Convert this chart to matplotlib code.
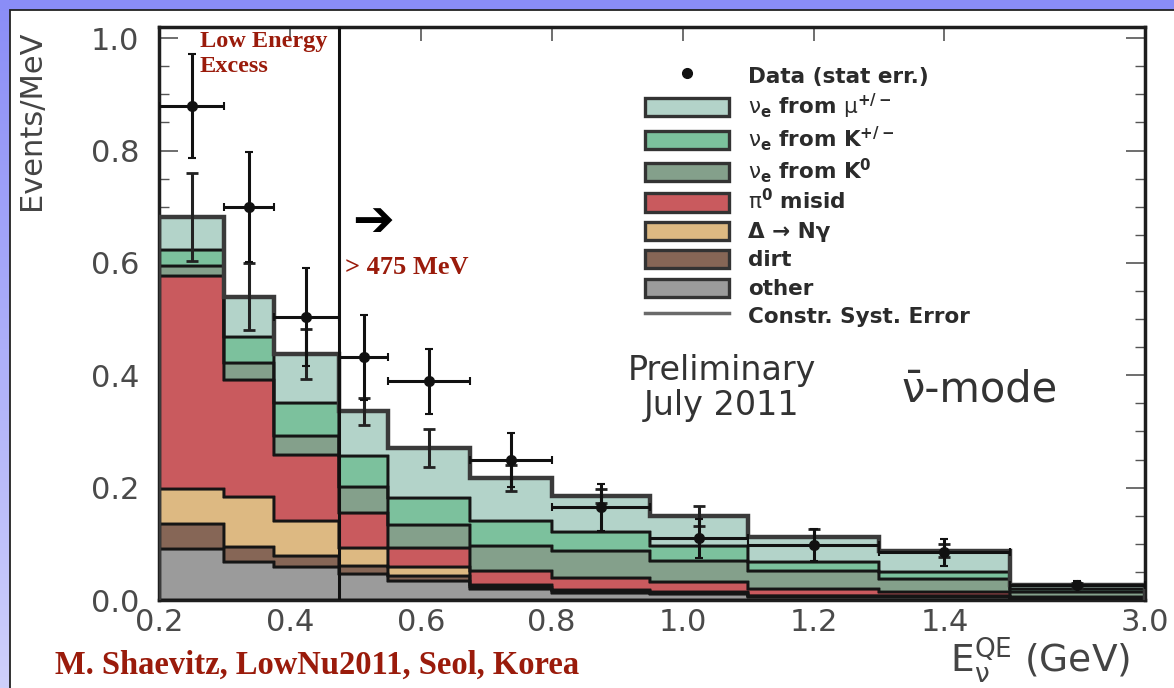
import numpy as np
import matplotlib
matplotlib.use("Agg")
import matplotlib.pyplot as plt
from matplotlib.patches import Patch, Rectangle
from matplotlib.lines import Line2D
from matplotlib.legend_handler import HandlerPatch
from matplotlib.colors import LinearSegmentedColormap

# ---------------- data ----------------
edges = [0.2, 0.3, 0.375, 0.475, 0.55, 0.675, 0.8, 0.95, 1.1, 1.3, 1.5, 3.0]
other = [0.091, 0.067, 0.058, 0.046, 0.034, 0.020, 0.013, 0.010, 0.005, 0.005, 0.002]
dirt = [0.044, 0.027, 0.020, 0.015, 0.009, 0.004, 0.003, 0.002, 0.002, 0.002, 0.001]
delta_ng = [0.062, 0.089, 0.062, 0.031, 0.016, 0.003, 0.002, 0.002, 0.001, 0.001, 0.000]
pi0_misid = [0.379, 0.209, 0.119, 0.063, 0.033, 0.025, 0.021, 0.018, 0.012, 0.006, 0.002]
nue_k0 = [0.018, 0.030, 0.033, 0.047, 0.041, 0.044, 0.048, 0.038, 0.032, 0.023, 0.010]
nue_kpm = [0.029, 0.047, 0.059, 0.054, 0.048, 0.045, 0.034, 0.027, 0.016, 0.013, 0.004]
nue_mu = [0.059, 0.071, 0.087, 0.080, 0.090, 0.076, 0.064, 0.053, 0.044, 0.038, 0.007]
syst_err = [0.078, 0.060, 0.045, 0.024, 0.034, 0.023, 0.012, 0.018, 0.014, 0.012, 0.004]
data_vals = [0.879, 0.700, 0.504, 0.432, 0.389, 0.250, 0.165, 0.110, 0.098, 0.085, 0.027]
data_err = [0.093, 0.098, 0.087, 0.076, 0.058, 0.048, 0.042, 0.035, 0.028, 0.024, 0.006]

components = [
    ("other", other, "#9b9b9b"),
    ("dirt", dirt, "#866656"),
    ("\u0394 \u2192 N\u03b3", delta_ng, "#ddb982"),
    (r"$\mathrm{\pi}^0$ misid", pi0_misid, "#c95a5e"),
    (r"$\mathrm{\nu}_e$ from K$^0$", nue_k0, "#84a08b"),
    (r"$\mathrm{\nu}_e$ from K$^{+/-}$", nue_kpm, "#7cc19d"),
    (r"$\mathrm{\nu}_e$ from $\mathrm{\mu}^{+/-}$", nue_mu, "#b3d3c9"),
]

xticks = [0.2, 0.4, 0.6, 0.8, 1.0, 1.2, 1.4, 3.0]
xticklabels = ["0.2", "0.4", "0.6", "0.8", "1.0", "1.2", "1.4", "3.0"]
yticks = [0.0, 0.2, 0.4, 0.6, 0.8, 1.0]
yticklabels = ["0.0", "0.2", "0.4", "0.6", "0.8", "1.0"]

# ---------------- figure ----------------
plt.rcParams["mathtext.default"] = "regular"
W, H = 1174, 688
fig = plt.figure(figsize=(W / 100, H / 100), dpi=100)

# slide background gradient
bg = fig.add_axes([0, 0, 1, 1], zorder=-10)
bg.set_axis_off()
cmap_bg = LinearSegmentedColormap.from_list("bg", ["#8a8df7", "#cfd0fb"])
bg.imshow(np.linspace(0, 1, 256).reshape(-1, 1), aspect="auto", cmap=cmap_bg,
          extent=(0, 1, 0, 1), origin="upper")
bg.set_xlim(0, 1)
bg.set_ylim(0, 1)
bg.add_patch(Rectangle((10 / W, -0.01), 1.0, 1 - 10 / H + 0.01, facecolor="white",
                       edgecolor="#222222", lw=1.3))

ax = fig.add_axes([159 / W, 1 - 600 / H, (1145 - 159) / W, (600 - 27) / H], zorder=2)
ax.set_facecolor("none")

K = 0.1376


def fwd(x):
    x = np.asarray(x, dtype=float)
    return np.where(x <= 1.5, x, 1.5 + (x - 1.5) * K)


def inv(u):
    u = np.asarray(u, dtype=float)
    return np.where(u <= 1.5, u, 1.5 + (u - 1.5) / K)


ax.set_xscale("function", functions=(fwd, inv))
ax.set_xlim(0.2, 3.0)
ax.set_ylim(0, 1.02)

edges_a = np.array(edges)
base = np.zeros(len(edges) - 1)
for name, vals, col in components:
    v = np.array(vals)
    ax.stairs(base + v, edges_a, baseline=base.copy(), fill=True,
              facecolor=col, edgecolor="#151515", lw=1.7, zorder=2)
    ax.stairs(base + v, edges_a, baseline=base.copy(), fill=False,
              color="#151515", lw=1.7, zorder=3)
    base = base + v
total = base

# total line (syst)
ax.stairs(total, edges_a, color="#3a3a3a", lw=3.2, zorder=4)

centers = 0.5 * (edges_a[:-1] + edges_a[1:])
halfw = 0.5 * (edges_a[1:] - edges_a[:-1])

ax.errorbar(centers, total, yerr=syst_err, fmt="none", ecolor="#222222",
            elinewidth=2.2, capsize=4, capthick=2, zorder=5)
ax.errorbar(centers, data_vals, yerr=data_err, xerr=halfw, fmt="o", color="#111111",
            ms=7, elinewidth=2.2, capsize=3, capthick=1.5, zorder=6)

ax.axvline(0.475, color="#111111", lw=2.2, zorder=7)

# ticks
ax.set_xticks(xticks)
ax.set_xticklabels(xticklabels)
ax.set_yticks(yticks)
ax.set_yticklabels(yticklabels)
ax.set_yticks(np.arange(0, 1.01, 0.05), minor=True)
ax.set_xticks([], minor=True)
ax.tick_params(axis="both", which="both", direction="in", top=True, right=True,
               colors="#555555", labelcolor="#4a4a4a", labelsize=22)
ax.tick_params(axis="y", which="major", length=14, width=1.2, pad=14)
ax.tick_params(axis="y", which="minor", length=7, width=1.0)
ax.tick_params(axis="x", which="major", length=10, width=1.2, pad=6)
for lab in ax.get_xticklabels() + ax.get_yticklabels():
    lab.set_family("DejaVu Sans")
for sp in ax.spines.values():
    sp.set_linewidth(2.5)
    sp.set_color("#1e1e1e")


# legend
def small_rect(legend, orig_handle, xdescent, ydescent, width, height, fontsize):
    h = height * 0.72
    return Rectangle((-xdescent, -ydescent + (height - h) / 2), width, h)


handles = [Line2D([], [], marker="o", color="#111111", ls="none", ms=7)]
labels = ["Data (stat err.)"]
for name, vals, col in components[::-1]:
    handles.append(Patch(facecolor=col, edgecolor="#333333", lw=2.4))
    labels.append(name)
handles.append(Line2D([], [], color="#6a6a6a", lw=2.5))
labels.append("Constr. Syst. Error")
leg = ax.legend(handles, labels, loc="upper left",
                bbox_to_anchor=((636 - 159) / (1145 - 159), (600 - 55) / 573),
                frameon=False, handlelength=3.9, handleheight=1.42,
                handletextpad=0.9, labelspacing=0.15, borderaxespad=0,
                handler_map={Patch: HandlerPatch(patch_func=small_rect)},
                prop={"family": "DejaVu Sans", "weight": "bold", "size": 15.5})
for t in leg.get_texts():
    t.set_color("#2b2b2b")

# annotations
serif = ["Liberation Serif", "DejaVu Serif"]
red = "#9a1b0b"
fig.text(200 / W, 1 - 31 / H, "Low Energy\nExcess", ha="left", va="top",
         family=serif, weight="bold", fontsize=17.5, color=red, linespacing=1.25)
fig.text(373 / W, 1 - 222 / H, "\u2794", ha="center", va="center",
         family="DejaVu Sans", fontsize=36, color="black")
fig.text(345 / W, 1 - 268 / H, "> 475 MeV", ha="left", va="center",
         family=serif, weight="bold", fontsize=19, color=red)
fig.text(722 / W, 1 - 388 / H, "Preliminary\nJuly 2011", ha="center", va="center",
         family="DejaVu Sans", fontsize=24, color="#333333", linespacing=1.1)
fig.text(980 / W, 1 - 390 / H, "\u03bd\u0304-mode", ha="center", va="center",
         family="DejaVu Sans", fontsize=30, color="#333333")
fig.text(32 / W, 1 - 120 / H, "Events/MeV", rotation=90, ha="center", va="center",
         family="DejaVu Sans", fontsize=22, color="#444444")
fig.text(1040 / W, 1 - 660 / H, r"E$_{\mathrm{\nu}}^{QE}$ (GeV)", ha="center", va="center",
         family="DejaVu Sans", fontsize=27, color="#444444")
fig.text(55 / W, 1 - 665 / H, "M. Shaevitz, LowNu2011, Seol, Korea", ha="left",
         va="center", family=serif, weight="bold", fontsize=23.5, color=red)

fig.savefig("out.png", dpi=100)
